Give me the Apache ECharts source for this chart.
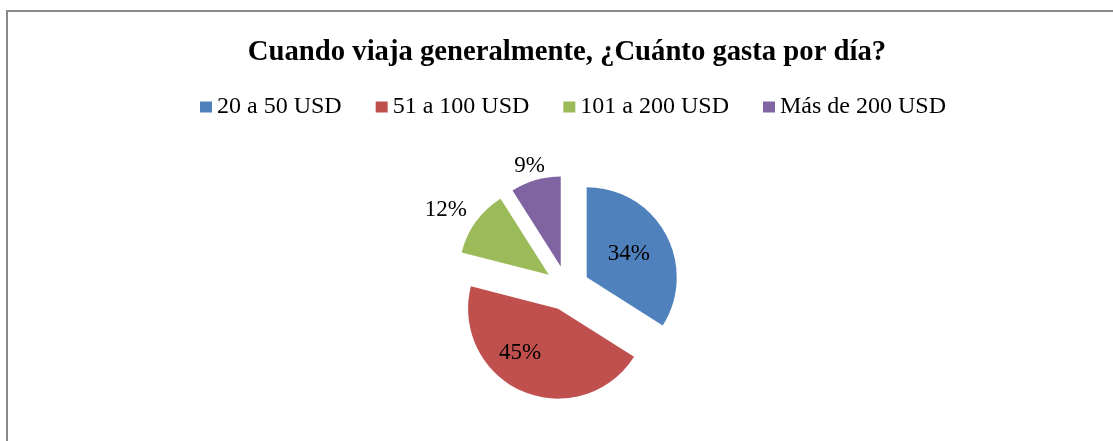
<!DOCTYPE html>
<html>
<head>
<meta charset="utf-8">
<script src="https://cdn.jsdelivr.net/npm/echarts@6/dist/echarts.min.js"></script>
<style>html,body{margin:0;padding:0;background:#fff;}#c{width:1113px;height:441px;}</style>
</head>
<body>
<div id="c"></div>
<script>
const titleText = 'Cuando viaja generalmente, ¿Cuánto gasta por día?';
const categories = ['20 a 50 USD', '51 a 100 USD', '101 a 200 USD', 'Más de 200 USD'];
const values = [34, 45, 12, 9];
const colors = ['#4F81BD', '#C0504D', '#9BBB59', '#8064A2'];
const labelPositions = ['inside', 'inside', 'outside', 'outside'];
const labelNudge = [[0, 0], [-19, 0], [12, 0], [20, 5]];

const font = '"Liberation Serif", "Times New Roman", serif';
const chart = echarts.init(document.getElementById('c'), null, {renderer: 'canvas'});
chart.setOption({
  animation: false,
  backgroundColor: '#fff',
  graphic: [{
    type: 'rect', shape: {x: 7, y: 11, width: 1300, height: 600},
    style: {fill: 'none', stroke: '#898989', lineWidth: 2}, silent: true
  }],
  title: {
    text: titleText, left: 562, textAlign: 'center', top: 33,
    textStyle: {fontFamily: font, fontWeight: 'bold', fontSize: 28.7, color: '#000'}
  },
  legend: {
    left: 200, top: 95, padding: 0, icon: 'rect', itemWidth: 12, itemHeight: 11, itemGap: 34,
    textStyle: {fontFamily: font, fontSize: 24, color: '#000'},
    data: categories, selectedMode: false
  },
  series: [{
    type: 'pie', center: [567, 288], radius: 90, startAngle: 90, clockwise: true,
    selectedMode: 'multiple', selectedOffset: 22.5,
    label: {fontFamily: font, fontSize: 23, color: '#000', formatter: '{c}%'},
    labelLine: {show: false, length: 20, length2: 0},
    labelLayout: function (p) {
      const n = labelNudge[p.dataIndex];
      return {dx: n[0], dy: n[1]};
    },
    emphasis: {disabled: true},
    data: categories.map((name, i) => ({
      name: name, value: values[i], selected: true,
      itemStyle: {color: colors[i]},
      label: {position: labelPositions[i]}
    }))
  }]
});
</script>
</body>
</html>
